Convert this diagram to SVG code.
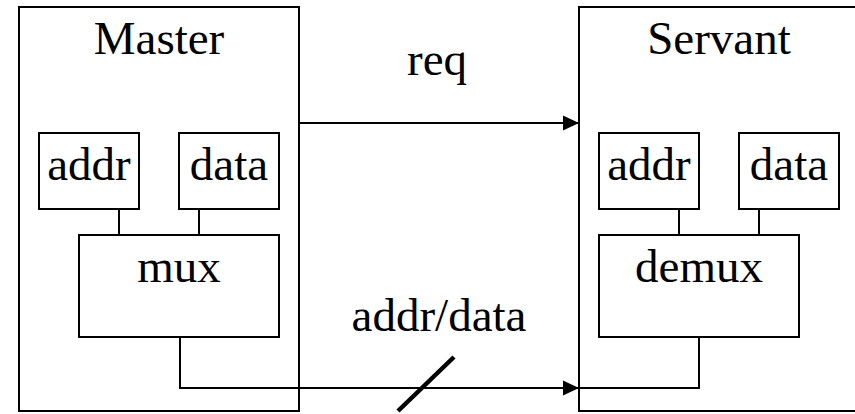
<svg xmlns="http://www.w3.org/2000/svg" width="855" height="414" viewBox="0 0 855 414">
<style>
.box{fill:#fff;stroke:#000;stroke-width:2}
.ln{fill:none;stroke:#000;stroke-width:2}
.t{font-family:'Liberation Serif','Times New Roman',Times,serif;font-size:47px;fill:#000;text-anchor:middle}
</style>
<defs>
<marker id="ah" markerWidth="16" markerHeight="16" refX="16" refY="8" orient="auto" markerUnits="userSpaceOnUse">
<path d="M0,0.5 L16,8 L0,15.5 Z" fill="#000"/>
</marker>
</defs>
<rect width="855" height="414" fill="#fff"/>
<g id="master">
<rect class="box" x="19" y="7" width="280" height="404"/>
<text class="t" font-family="Liberation Serif, serif" x="159" y="54">Master</text>
</g>
<g id="servant">
<rect class="box" x="579" y="7" width="284" height="404"/>
<text class="t" font-family="Liberation Serif, serif" x="719" y="54">Servant</text>
</g>
<g id="m-addr">
<rect class="box" x="39" y="133" width="100" height="76"/>
<text class="t" font-family="Liberation Serif, serif" x="89" y="180">addr</text>
</g>
<g id="m-data">
<rect class="box" x="179" y="133" width="100" height="76"/>
<text class="t" font-family="Liberation Serif, serif" x="229" y="180">data</text>
</g>
<g id="mux">
<rect class="box" x="79" y="235" width="200" height="102"/>
<text class="t" font-family="Liberation Serif, serif" x="179" y="282">mux</text>
</g>
<g id="s-addr">
<rect class="box" x="599" y="133" width="100" height="76"/>
<text class="t" font-family="Liberation Serif, serif" x="649" y="180">addr</text>
</g>
<g id="s-data">
<rect class="box" x="739" y="133" width="100" height="76"/>
<text class="t" font-family="Liberation Serif, serif" x="789" y="180">data</text>
</g>
<g id="demux">
<rect class="box" x="599" y="235" width="200" height="102"/>
<text class="t" font-family="Liberation Serif, serif" x="699" y="282">demux</text>
</g>
<g id="connectors">
<line class="ln" x1="119" y1="209" x2="119" y2="235"/>
<line class="ln" x1="199" y1="209" x2="199" y2="235"/>
<line class="ln" x1="679" y1="209" x2="679" y2="235"/>
<line class="ln" x1="759" y1="209" x2="759" y2="235"/>
<line class="ln" x1="299" y1="123" x2="579" y2="123" marker-end="url(#ah)"/>
<polyline class="ln" points="180,337 180,388 579,388" marker-end="url(#ah)"/>
<polyline class="ln" points="699,337 699,388 579,388"/>
<line x1="398" y1="411" x2="454" y2="357" stroke="#000" stroke-width="4.5"/>
<text class="t" font-family="Liberation Serif, serif" x="437" y="75">req</text>
<text class="t" font-family="Liberation Serif, serif" x="439" y="331">addr/data</text>
</g>
</svg>
